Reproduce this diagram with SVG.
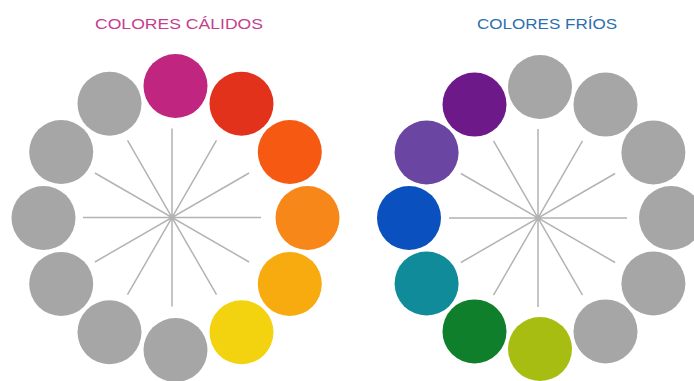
<svg xmlns="http://www.w3.org/2000/svg" xmlns:xlink="http://www.w3.org/1999/xlink" width="694" height="381" viewBox="0 0 694 381">
<style>
.title{font-family:"Liberation Sans","DejaVu Sans",sans-serif;font-size:15px;}
.spk{stroke:#b3b3b3;stroke-width:1.5;fill:none;}
.g{fill:#a6a6a6;}
</style>
<defs>
<path id="spokes" class="spk" d="M-89,0H89 M-77.1,-44.5L77.1,44.5 M-44.5,-77.1L44.5,77.1 M0,-89V89 M44.5,-77.1L-44.5,77.1 M77.1,-44.5L-77.1,44.5"/>
</defs>
<rect width="694" height="381" fill="#ffffff"/>
<g id="titles">
<text class="title" x="179" y="29" text-anchor="middle" fill="#c4408f" textLength="168" lengthAdjust="spacingAndGlyphs">COLORES CÁLIDOS</text>
<text class="title" x="547" y="29" text-anchor="middle" fill="#2c6fae" textLength="140" lengthAdjust="spacingAndGlyphs">COLORES FRÍOS</text>
</g>
<g id="connectors">
<use xlink:href="#spokes" href="#spokes" x="172" y="217.5"/>
<use xlink:href="#spokes" href="#spokes" x="538" y="218"/>
</g>
<g id="warm-wheel">
<circle id="w-magenta" cx="175.5" cy="86" r="32" fill="#c0267f"/>
<circle id="w-red" cx="241.5" cy="103.7" r="32" fill="#e2321c"/>
<circle id="w-redorange" cx="289.8" cy="152" r="32" fill="#f65a12"/>
<circle id="w-orange" cx="307.5" cy="218" r="32" fill="#f8871a"/>
<circle id="w-amber" cx="289.8" cy="284" r="32" fill="#f8ab0e"/>
<circle id="w-yellow" cx="241.5" cy="332.3" r="32" fill="#f3d20f"/>
<circle id="w-gray1" class="g" cx="175.5" cy="350" r="32"/>
<circle id="w-gray2" class="g" cx="109.5" cy="332.3" r="32"/>
<circle id="w-gray3" class="g" cx="61.2" cy="284" r="32"/>
<circle id="w-gray4" class="g" cx="43.5" cy="218" r="32"/>
<circle id="w-gray5" class="g" cx="61.2" cy="152" r="32"/>
<circle id="w-gray6" class="g" cx="109.5" cy="103.7" r="32"/>
</g>
<g id="cool-wheel">
<circle id="c-gray1" class="g" cx="540" cy="87" r="32"/>
<circle id="c-gray2" class="g" cx="605.5" cy="104.6" r="32"/>
<circle id="c-gray3" class="g" cx="653.4" cy="152.5" r="32"/>
<circle id="c-gray4" class="g" cx="671" cy="218" r="32"/>
<circle id="c-gray5" class="g" cx="653.4" cy="283.5" r="32"/>
<circle id="c-gray6" class="g" cx="605.5" cy="331.4" r="32"/>
<circle id="c-yellowgreen" cx="540" cy="349" r="32" fill="#a8bd12"/>
<circle id="c-green" cx="474.5" cy="331.4" r="32" fill="#0f7f2b"/>
<circle id="c-teal" cx="426.6" cy="283.5" r="32" fill="#0f8b9a"/>
<circle id="c-blue" cx="409" cy="218" r="32" fill="#0b50bf"/>
<circle id="c-violet" cx="426.6" cy="152.5" r="32" fill="#6a45a2"/>
<circle id="c-purple" cx="474.5" cy="104.6" r="32" fill="#6d198a"/>
</g>
</svg>
